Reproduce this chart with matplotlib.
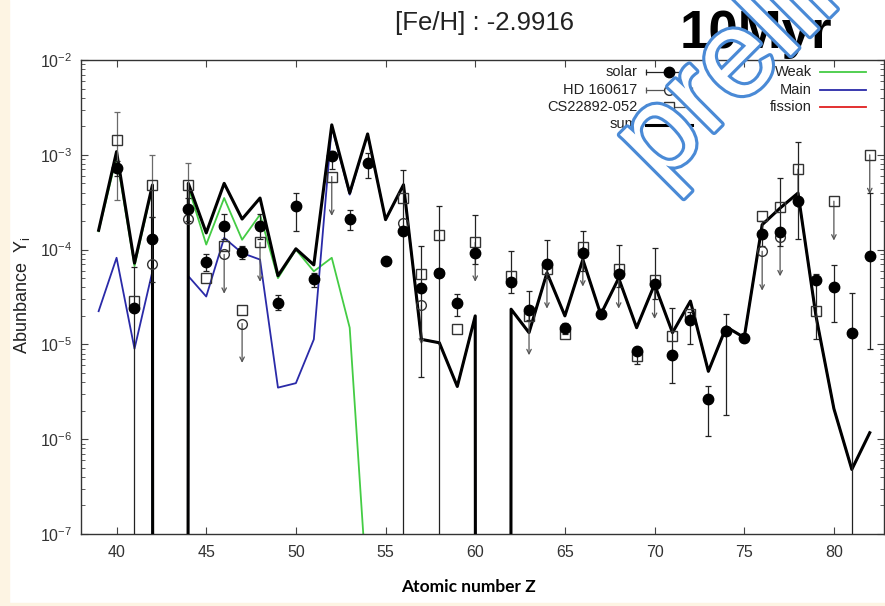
import numpy as np
import matplotlib
matplotlib.use('Agg')
import matplotlib.pyplot as plt
import matplotlib.patheffects as pe
from matplotlib.patches import Rectangle
from matplotlib.ticker import FixedLocator, LogLocator, NullFormatter

plt.rcParams['font.family'] = ['Liberation Sans', 'DejaVu Sans']
plt.rcParams['mathtext.fontset'] = 'custom'
plt.rcParams['mathtext.rm'] = 'Liberation Sans'
plt.rcParams['mathtext.it'] = 'Liberation Sans:italic'

# ---------------- data ----------------
z_model = np.arange(39, 83)
sum_model = [1.6e-4, 1.08e-3, 7.2e-5, 4.8e-4, 1e-300, 5.0e-4, 1.5e-4, 5.0e-4, 2.1e-4, 3.5e-4,
             5.3e-5, 1.02e-4, 6.9e-5, 2.07e-3, 3.95e-4, 1.66e-3, 2.07e-4, 4.83e-4, 1.13e-5, 1.04e-5,
             3.6e-6, 2.0e-5, 1e-300, 2.35e-5, 1.33e-5, 5.7e-5, 2.0e-5, 7.85e-5, 2.07e-5, 5.0e-5,
             1.5e-5, 4.3e-5, 1.33e-5, 2.86e-5, 5.2e-6, 1.53e-5, 1.18e-5, 1.83e-4, 2.74e-4, 3.95e-4,
             2.0e-5, 2.1e-6, 4.8e-7, 1.17e-6]
main_model = [2.24e-5, 8.2e-5, 9.0e-6, 5.9e-5, 1e-300, 5.25e-5, 3.2e-5, 1.33e-4, 9.2e-5, 7.85e-5,
              3.5e-6, 3.9e-6, 1.13e-5, 1.99e-3, 3.8e-4, 1.66e-3, 2.07e-4, 4.83e-4, 1.13e-5, 1.04e-5,
              3.6e-6, 2.0e-5, 1e-300, 2.35e-5, 1.33e-5, 5.7e-5, 2.0e-5, 7.85e-5, 2.07e-5, 5.0e-5,
              1.5e-5, 4.3e-5, 1.33e-5, 2.86e-5, 5.2e-6, 1.53e-5, 1.18e-5, 1.83e-4, 2.74e-4, 3.95e-4,
              2.0e-5, 2.1e-6, 4.8e-7, 1.17e-6]
fission_model = [0.0] * 44
weak_z = np.arange(39, 55)
weak_model = [1.56e-4, 9.6e-4, 6.7e-5, 4.6e-4, 1e-300, 4.6e-4, 1.13e-4, 3.5e-4, 1.27e-4, 2.34e-4,
              5.0e-5, 1.0e-4, 5.9e-5, 8.2e-5, 1.5e-5, 2e-8]

solar_z = [40, 41, 42, 44, 45, 46, 47, 48, 49, 50, 51, 52, 53, 54, 55, 56, 57, 58, 59, 60,
           62, 63, 64, 65, 66, 67, 68, 69, 70, 71, 72, 73, 74, 75, 76, 77, 78, 79, 80, 81, 82]
solar_y = [7.2e-4, 2.43e-5, 1.29e-4, 2.68e-4, 7.4e-5, 1.76e-4, 9.4e-5, 1.76e-4, 2.75e-5, 2.86e-4,
           4.9e-5, 9.6e-4, 2.1e-4, 8.2e-4, 7.66e-5, 1.56e-4, 3.9e-5, 5.7e-5, 2.75e-5, 9.2e-5,
           4.53e-5, 2.33e-5, 7.1e-5, 1.5e-5, 9.1e-5, 2.07e-5, 5.5e-5, 8.5e-6, 4.3e-5, 7.66e-6,
           1.8e-5, 2.63e-6, 1.4e-5, 1.18e-5, 1.47e-4, 1.52e-4, 3.24e-4, 4.75e-5, 4.05e-5, 1.33e-5, 8.5e-5]
solar_lo = [6.0e-4, 1e-9, 4.5e-5, 2.0e-4, 6.0e-5, 1.3e-4, 8.0e-5, 1.3e-4, 2.3e-5, 1.56e-4,
            4.0e-5, 7.0e-4, 1.6e-4, 5.7e-4, 7.66e-5, 1e-9, 4.5e-6, 1e-9, 2.0e-5, 7.0e-5,
            3.5e-5, 1.8e-5, 5.0e-5, 1.3e-5, 6.0e-5, 1.9e-5, 4.0e-5, 6.2e-6, 3.0e-5, 3.9e-6,
            1.0e-5, 1.07e-6, 1.8e-6, 1.05e-5, 1.1e-4, 1.09e-4, 1.3e-4, 1.13e-5, 1.73e-5, 1e-9, 9.0e-6]
solar_hi = [8.5e-4, 6.5e-5, 2.2e-4, 3.5e-4, 9.0e-5, 2.4e-4, 1.1e-4, 2.4e-4, 3.3e-5, 4.0e-4,
            5.6e-5, 1.1e-3, 2.6e-4, 1.04e-3, 7.66e-5, 6.9e-4, 1.1e-4, 2.9e-4, 3.4e-5, 2.3e-4,
            9.6e-5, 3.7e-5, 1.26e-4, 1.7e-5, 1.56e-4, 2.3e-5, 1.13e-4, 9.5e-6, 1.04e-4, 2.4e-5,
            2.2e-5, 3.6e-6, 2.1e-5, 1.3e-5, 2.0e-4, 5.7e-4, 1.35e-3, 5.5e-5, 6.8e-5, 3.5e-5, 4.0e-4]

cs_z = [40, 41, 42, 44, 45, 46, 47, 48, 52, 56, 57, 58, 59, 60, 62, 63, 64, 65, 66, 68,
        69, 70, 71, 72, 76, 77, 78, 79, 80, 82]
cs_y = [1.42e-3, 2.86e-5, 4.8e-4, 4.8e-4, 5.0e-5, 1.08e-4, 2.33e-5, 1.19e-4, 5.9e-4, 3.5e-4,
        5.55e-5, 1.44e-4, 1.47e-5, 1.19e-4, 5.3e-5, 2.0e-5, 6.2e-5, 1.3e-5, 1.06e-4, 6.2e-5,
        7.6e-6, 4.83e-5, 1.22e-5, 2.07e-5, 2.28e-4, 2.82e-4, 7.06e-4, 2.24e-5, 3.24e-4, 1.0e-3]
cs_lo = [3.3e-4, 2.86e-5, 2.2e-4, 2.5e-4, 5.0e-5, 1.08e-4, 2.33e-5, 1.19e-4, 5.9e-4, 3.5e-4,
         5.55e-5, 1.44e-4, 1.47e-5, 1.19e-4, 5.3e-5, 2.0e-5, 6.2e-5, 1.3e-5, 1.06e-4, 6.2e-5,
         7.6e-6, 4.83e-5, 1.22e-5, 2.07e-5, 2.28e-4, 2.82e-4, 7.06e-4, 2.24e-5, 3.24e-4, 1.0e-3]
cs_hi = [2.8e-3, 2.86e-5, 1.0e-3, 8.2e-4, 5.0e-5, 1.08e-4, 2.33e-5, 1.19e-4, 5.9e-4, 3.5e-4,
         5.55e-5, 1.44e-4, 1.47e-5, 1.19e-4, 5.3e-5, 2.0e-5, 6.2e-5, 1.3e-5, 1.06e-4, 6.2e-5,
         7.6e-6, 4.83e-5, 1.22e-5, 2.07e-5, 2.28e-4, 2.82e-4, 7.06e-4, 2.24e-5, 3.24e-4, 1.0e-3]
cs_upper_limits = [48, 52, 60, 63, 64, 66, 68, 70, 78, 80, 82]

hd_z = [42, 44, 46, 47, 56, 57, 58, 76, 77]
hd_y = [7.1e-5, 2.1e-4, 8.9e-5, 1.66e-5, 1.9e-4, 2.6e-5, 5.7e-5, 9.6e-5, 1.36e-4]
hd_upper_limits = [46, 47, 57, 76, 77]

legend_left = ['solar', 'HD 160617', 'CS22892-052', 'sum']
legend_right = ['Weak', 'Main', 'fission']

# ---------------- figure ----------------
W, H = 885, 606
fig = plt.figure(figsize=(W / 100, H / 100), dpi=100)
fig.patch.set_facecolor('white')
cream = '#fdf4e3'
fig.add_artist(Rectangle((0, 0), 9 / W, 1, transform=fig.transFigure, color=cream, zorder=0))
fig.add_artist(Rectangle((0, 0), 1, 3 / H, transform=fig.transFigure, color=cream, zorder=0))

ax_l, ax_r, ax_t, ax_b = 80.7, 884.0, 60.0, 534.0
ax = fig.add_axes([ax_l / W, 1 - ax_b / H, (ax_r - ax_l) / W, (ax_b - ax_t) / H])
ax.set_yscale('log')
ax.set_xlim(38.0, 40 + (ax_r - 116.7) / 17.93)
ax.set_ylim(1e-7, 1e-2)

# model curves
ax.plot(weak_z, weak_model, color='#44cc44', lw=1.3, zorder=2)
ax.plot(z_model, main_model, color='#2a2aa8', lw=1.3, zorder=2)
ax.plot(z_model, fission_model, color='#e02020', lw=1.3, zorder=2)
ax.plot(z_model, sum_model, color='black', lw=2.2, zorder=3)

# data points
def draw_errors(z, y, lo, hi, color, zorder):
    z = np.asarray(z); y = np.asarray(y); lo = np.asarray(lo); hi = np.asarray(hi)
    m = (lo < y) | (hi > y)
    ax.errorbar(z[m], y[m], yerr=[y[m] - lo[m], hi[m] - y[m]], fmt='none',
                ecolor=color, elinewidth=0.9, capsize=2.5, capthick=0.9, zorder=zorder)

def draw_limits(z, y, zs, color):
    for zi, yi in zip(z, y):
        if zi in zs:
            ax.annotate('', xy=(zi, yi / 2.6), xytext=(zi, yi),
                        arrowprops=dict(arrowstyle='->', color=color, lw=0.9,
                                        shrinkA=0, shrinkB=0, mutation_scale=8), zorder=4)

draw_errors(cs_z, cs_y, cs_lo, cs_hi, '#6a6a6a', 4)
draw_limits(cs_z, cs_y, cs_upper_limits, '#555555')
draw_limits(hd_z, hd_y, hd_upper_limits, '#555555')
draw_errors(solar_z, solar_y, solar_lo, solar_hi, '#222222', 5)

ax.plot(cs_z, cs_y, ls='none', marker='s', ms=7, mfc='none', mec='#333333', mew=1.0, zorder=6)
ax.plot(hd_z, hd_y, ls='none', marker='o', ms=7, mfc='none', mec='#333333', mew=1.0, zorder=6)
ax.plot(solar_z, solar_y, ls='none', marker='o', ms=7.5, mfc='black', mec='black', zorder=7)

# axes styling
for s in ax.spines.values():
    s.set_linewidth(1.0)
    s.set_color('#333333')
ax.xaxis.set_major_locator(FixedLocator([40, 45, 50, 55, 60, 65, 70, 75, 80]))
ax.yaxis.set_major_locator(LogLocator(base=10, numticks=10))
ax.yaxis.set_minor_locator(LogLocator(base=10, subs=np.arange(2, 10), numticks=20))
ax.yaxis.set_minor_formatter(NullFormatter())
ax.tick_params(which='both', direction='in', top=True, right=True, colors='#444444',
               labelcolor='#333333', labelsize=11.5)
ax.tick_params(which='major', length=5, width=0.8)
ax.tick_params(which='minor', length=3, width=0.6)
ax.tick_params(axis='x', pad=8)
ax.tick_params(axis='y', pad=6)

# legend drawn gnuplot-style
def ax_x(px):
    return (px - ax_l) / (ax_r - ax_l)

def ax_y(py):
    return (ax_b - py) / (ax_b - ax_t)

rows = [72, 89.5, 107, 124.5]
left_text_x, left_h0, left_h1 = 637, 646, 692
right_text_x, right_h0, right_h1 = 812, 820, 866
tf = ax.transAxes
styles_left = [dict(marker='o', mfc='black', mec='black', ms=7.5, color='#222222', lw=0.9),
               dict(marker='o', mfc='white', mec='#333333', ms=7, color='#555555', lw=0.9),
               dict(marker='s', mfc='white', mec='#333333', ms=7, color='#555555', lw=0.9),
               dict(marker=None, color='black', lw=2.2)]
for lab, ry, st in zip(legend_left, rows, styles_left):
    ax.text(ax_x(left_text_x), ax_y(ry), lab, transform=tf, ha='right', va='center',
            fontsize=10.5, color='#222222', zorder=8)
    ax.plot([ax_x(left_h0), ax_x(left_h1)], [ax_y(ry)] * 2, transform=tf, clip_on=False,
            color=st['color'], lw=st['lw'], zorder=8)
    if st['marker']:
        ax.plot([ax_x(left_h0), ax_x(left_h1)], [ax_y(ry)] * 2, transform=tf, clip_on=False,
                ls='none', marker='|', ms=5, mew=0.9, color=st['color'], zorder=8)
        ax.plot([ax_x((left_h0 + left_h1) / 2)], [ax_y(ry)], transform=tf, clip_on=False,
                ls='none', marker=st['marker'], mfc=st['mfc'], mec=st['mec'], ms=st['ms'], zorder=9)
right_colors = ['#44cc44', '#2a2aa8', '#e02020']
for lab, ry, c in zip(legend_right, rows, right_colors):
    ax.text(ax_x(right_text_x), ax_y(ry), lab, transform=tf, ha='right', va='center',
            fontsize=10.5, color='#222222', zorder=8)
    ax.plot([ax_x(right_h0), ax_x(right_h1)], [ax_y(ry)] * 2, transform=tf, clip_on=False,
            color=c, lw=1.3, zorder=8)

# labels and titles
fig.text(22 / W, 1 - 295 / H, 'Abunbance  Y$_{\\mathrm{i}}$', rotation=90, ha='center',
         va='center', fontsize=13, color='#222222')
fig.text(468 / W, 1 - 587 / H, 'Atomic number Z', ha='center', va='center', fontsize=12.5,
         fontweight='bold', family=['Lato', 'DejaVu Sans'], color='black')
fig.text(485 / W, 1 - 23 / H, '[Fe/H] : -2.9916', ha='center', va='center', fontsize=18.5,
         color='#222222')
fig.text(680 / W, 1 - 48 / H, '10Myr', ha='left', va='baseline', fontsize=38,
         fontweight='bold', color='black', zorder=5)
fig.text(660 / W, 1 - 186 / H, 'preliminary', ha='left', va='baseline', rotation=45,
         rotation_mode='anchor', fontsize=88, color='white', zorder=10,
         path_effects=[pe.withStroke(linewidth=4.5, foreground='#4a8ad6')])

fig.savefig('out.png', dpi=100)
